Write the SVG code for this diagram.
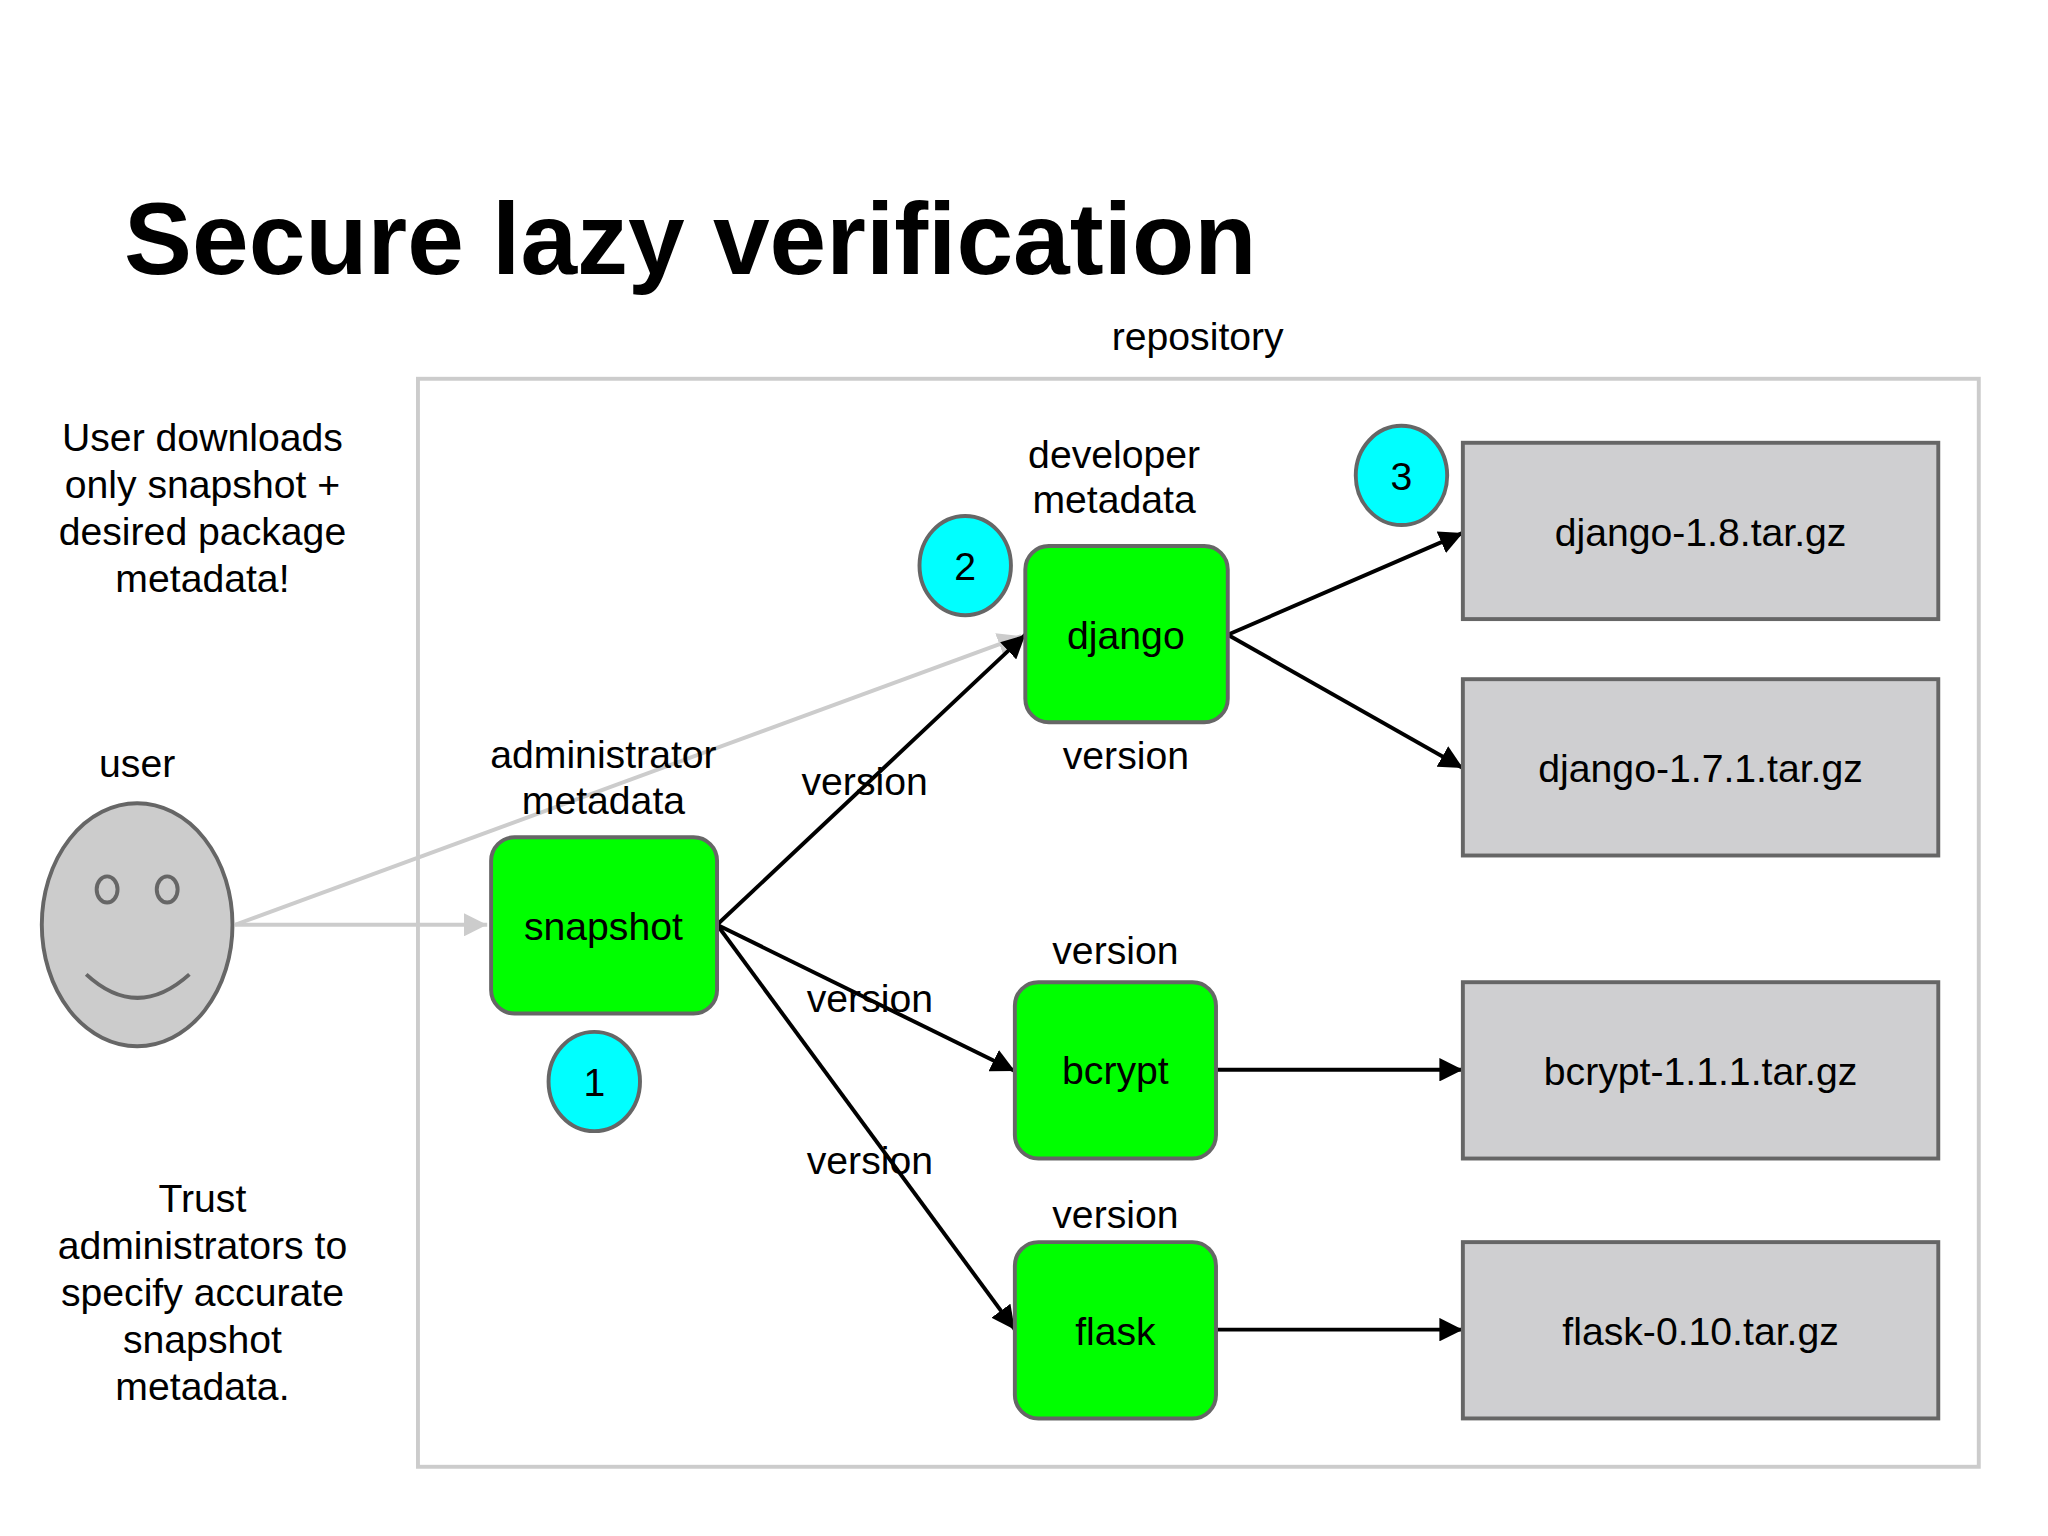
<svg xmlns="http://www.w3.org/2000/svg" width="2048" height="1536" viewBox="0 0 2048 1536">
<style>
text{font-family:"Liberation Sans",Arial,sans-serif;font-size:30px;fill:#000;text-anchor:middle}
.g{fill:#00ff00;stroke:#666;stroke-width:3}
.f{fill:#cfcfd1;stroke:#666;stroke-width:3}
.c{fill:#00ffff;stroke:#666;stroke-width:3}
.k{stroke:#000;stroke-width:3;fill:none;marker-end:url(#a)}
.l{stroke:#ccc;stroke-width:3;fill:none;marker-end:url(#b)}
</style>
<defs>
<marker id="a" viewBox="0 0 10 10" refX="10" refY="5" markerWidth="6" markerHeight="6" orient="auto" markerUnits="strokeWidth"><path d="M0 0L10 5L0 10z" fill="#000"/></marker>
<marker id="b" viewBox="0 0 10 10" refX="10" refY="5" markerWidth="6" markerHeight="6" orient="auto" markerUnits="strokeWidth"><path d="M0 0L10 5L0 10z" fill="#ccc"/></marker>
</defs>
<rect width="2048" height="1536" fill="#fff"/>
<g transform="scale(1.30612)">
<text x="95" y="210" style="font-size:78px;font-weight:bold;text-anchor:start">Secure lazy verification</text>
<text x="917" y="268">repository</text>
<rect x="320" y="290" width="1195" height="833" fill="none" stroke="#ccc" stroke-width="3"/>
<g id="note1"><text x="155" y="345">User downloads</text><text x="155" y="381">only snapshot +</text><text x="155" y="417">desired package</text><text x="155" y="453">metadata!</text></g>
<g id="note2"><text x="155" y="928">Trust</text><text x="155" y="964">administrators to</text><text x="155" y="1000">specify accurate</text><text x="155" y="1036">snapshot</text><text x="155" y="1072">metadata.</text></g>
<g id="user"><text x="105" y="595">user</text>
<ellipse cx="105" cy="708" rx="73" ry="93" fill="#ccc" stroke="#666" stroke-width="3"/>
<ellipse cx="82" cy="681" rx="8" ry="10" fill="#ccc" stroke="#666" stroke-width="3"/>
<ellipse cx="128" cy="681" rx="8" ry="10" fill="#ccc" stroke="#666" stroke-width="3"/>
<path d="M66 746Q105 782 145 746" fill="none" stroke="#666" stroke-width="3"/></g>
<g id="connectors">
<path class="l" d="M180 708H373"/>
<path class="l" d="M180 708L782 487"/>
<path class="k" d="M549 708L785 486"/>
<path class="k" d="M549 708L777 820"/>
<path class="k" d="M549 708L777 1018"/>
<path class="k" d="M940 486L1120 408"/>
<path class="k" d="M940 486L1120 588"/>
<path class="k" d="M931 819H1120"/>
<path class="k" d="M931 1018H1120"/>
<text x="662" y="609">version</text><text x="666" y="775">version</text><text x="666" y="899">version</text>
</g>
<g id="snapshot"><text x="462" y="588">administrator</text><text x="462" y="623">metadata</text><rect class="g" x="376" y="641" width="173" height="135" rx="18"/><text x="462" y="720">snapshot</text></g>
<g id="c1"><ellipse class="c" cx="455" cy="828" rx="35" ry="38"/><text x="455" y="839">1</text></g>
<g id="c2"><ellipse class="c" cx="739" cy="433" rx="35" ry="38"/><text x="739" y="444">2</text></g>
<g id="c3"><ellipse class="c" cx="1073" cy="364" rx="35" ry="38"/><text x="1073" y="375">3</text></g>
<g id="django"><text x="853" y="358">developer</text><text x="853" y="393">metadata</text><rect class="g" x="785" y="418" width="155" height="135" rx="18"/><text x="862" y="497">django</text><text x="862" y="589">version</text></g>
<g id="bcrypt"><text x="854" y="738">version</text><rect class="g" x="777" y="752" width="154" height="135" rx="18"/><text x="854" y="830">bcrypt</text></g>
<g id="flask"><text x="854" y="940">version</text><rect class="g" x="777" y="951" width="154" height="135" rx="18"/><text x="854" y="1030">flask</text></g>
<g id="f1"><rect class="f" x="1120" y="339" width="364" height="135"/><text x="1302" y="418">django-1.8.tar.gz</text></g>
<g id="f2"><rect class="f" x="1120" y="520" width="364" height="135"/><text x="1302" y="599">django-1.7.1.tar.gz</text></g>
<g id="f3"><rect class="f" x="1120" y="752" width="364" height="135"/><text x="1302" y="831">bcrypt-1.1.1.tar.gz</text></g>
<g id="f4"><rect class="f" x="1120" y="951" width="364" height="135"/><text x="1302" y="1030">flask-0.10.tar.gz</text></g>
</g>
</svg>
